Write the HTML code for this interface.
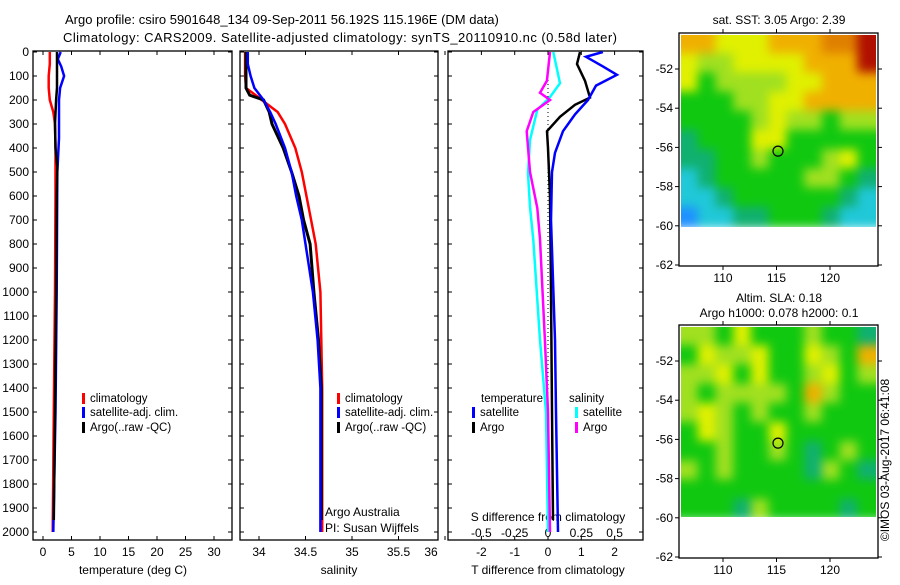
<!DOCTYPE html>
<html><head><meta charset="utf-8"><style>
body{margin:0;background:#fff}
svg text{font-family:"Liberation Sans",sans-serif;font-size:12px;fill:#000}
</style></head><body>
<svg id="s" width="900" height="580" xmlns="http://www.w3.org/2000/svg">
<defs>
<filter id="bl" x="-10%" y="-10%" width="120%" height="120%" filterUnits="objectBoundingBox"><feGaussianBlur stdDeviation="5"/></filter>
<clipPath id="c1"><rect x="681" y="35" width="195" height="192"/></clipPath>
<clipPath id="c2"><rect x="681" y="327" width="195" height="190"/></clipPath>
</defs>
<text x="65" y="24" style="font-size:13px">Argo profile: csiro 5901648_134 09-Sep-2011 56.192S 115.196E (DM data)</text>
<text x="63" y="42" textLength="554" style="font-size:13px">Climatology: CARS2009. Satellite-adjusted climatology: synTS_20110910.nc (0.58d later)</text>
<g id="g"></g>
</svg>
<script>
// ---- data ----
const tempClimDepth=[0,50,100,150,200,250,300,400,600,1000,1500,2000];
const tempClim=[1.2,1.2,1.0,1.0,1.2,1.8,2.1,2.2,2.2,2.1,1.9,1.7];
const tempSatDepth=[0,30,60,100,150,200,360,500,1000,1500,2000];
const tempSat=[3.1,2.6,3.2,3.7,3.0,2.8,2.8,2.5,2.4,2.2,1.8];
const tempArgoDepth=[0,150,200,300,400,480,600,1000,1500,1950];
const tempArgo=[2.45,2.45,2.3,2.1,2.2,2.5,2.4,2.3,2.1,1.9];
const salClimDepth=[0,100,150,190,200,250,300,400,500,700,800,1000,1200,1400,2000];
const salClim=[33.85,33.85,33.86,34.0,34.03,34.2,34.28,34.39,34.46,34.56,34.61,34.66,34.67,34.68,34.68];
const salArgoDepth=[0,150,180,200,250,300,400,500,600,700,800,1000,1200,1400,1950];
const salArgo=[33.86,33.86,33.9,34.05,34.11,34.14,34.26,34.35,34.43,34.48,34.55,34.59,34.64,34.67,34.67];
const salSatDepth=[0,50,100,150,200,250,300,400,500,600,700,800,1000,1200,1400,2000];
const salSat=[33.88,33.88,33.91,33.95,34.05,34.12,34.18,34.28,34.35,34.4,34.46,34.5,34.58,34.63,34.66,34.66];
const dSsatDepth=[0,130,188,240,367,505,645,783,1200,1500,2000];
const dSsat=[0.04,0.09,0.015,-0.08,-0.135,-0.15,-0.135,-0.11,-0.06,-0.015,0];
const dSargoDepth=[0,120,170,200,250,330,500,650,780,1200,1500,2000];
const dSargo=[0.015,-0.008,-0.06,0.015,-0.11,-0.16,-0.135,-0.08,-0.06,-0.023,0,0.015];
const dTargoDepth=[0,50,120,190,220,270,330,400,500,600,1000,1500,1950];
const dTargo=[0.96,0.87,1.11,1.26,0.81,0.36,-0.03,0,0.03,0.06,0.09,0.12,0.15];
const dTsatDepth=[0,20,60,95,140,200,260,330,420,500,700,1200,1500,2000];
const dTsat=[1.65,1.14,1.65,2.07,1.44,1.2,0.81,0.45,0.21,0.12,0.09,0.21,0.24,0.3];
const depthTicks=[0,100,200,300,400,500,600,700,800,900,1000,1100,1200,1300,1400,1500,1600,1700,1800,1900,2000];
const tempTicks=[0,5,10,15,20,25,30];
const salTicks=[34,34.5,35,35.5,36];
const dTTicks=[-2,-1,0,1,2];
const dSTicks=[-0.5,-0.25,0,0.25,0.5];
const map1Levels=[
[6,6,5,5,5,6,6,6,7,7,8],[5,4,4,5,5,5,5,6,6,6,8],[5,3,4,4,4,4,5,5,6,6,6],[3,3,3,4,4,5,5,6,6,6,6],
[3,3,3,3,4,5,4,4,3,4,4],[2,3,3,3,5,5,3,3,3,3,3],[2,2,3,3,4,3,3,3,4,5,3],[1,2,3,3,3,3,3,4,4,3,2],
[1,1,2,3,3,3,3,3,3,2,1],[0,1,1,2,2,3,3,3,2,1,1]];
const map2Levels=[
[4,4,3,5,3,3,3,4,3,3,2],[3,5,4,4,5,3,3,5,4,3,6],[4,4,5,3,5,3,3,4,5,3,4],[4,3,4,4,4,4,3,6,4,3,3],
[4,5,4,3,4,3,3,4,3,3,3],[3,5,4,3,3,5,3,3,3,3,3],[3,3,4,3,3,4,3,2,3,4,3],[4,3,4,3,3,3,3,2,4,3,2],
[3,3,3,3,3,3,3,3,3,3,3],[3,3,3,2,4,3,3,3,3,2,3]];
const latTicks=[-52,-54,-56,-58,-60,-62];
const lonTicks=[110,115,120];
// ---- drawing ----
const NS='http://www.w3.org/2000/svg';const G=document.getElementById('g');
function el(t,a,p){const e=document.createElementNS(NS,t);for(const k in a)e.setAttribute(k,a[k]);(p||G).appendChild(e);return e;}
const yD=d=>52+d*0.24;
const xT=v=>43+5.7*v, xS=v=>259+(v-34)*93, xdT=v=>548+33.3*v, xdS=v=>548+133.3*v;
function stepPath(dep,val,fx){let p='';for(let i=0;i<dep.length;i++){p+=(i?'L':'M')+fx(val[i]).toFixed(1)+','+yD(dep[i]).toFixed(1);}return p;}
function line(dep,val,fx,col,name,w){const e=el('path',{d:stepPath(dep,val,fx),fill:'none',stroke:col,'stroke-width':w||2.5});

}
function frame(x0,x1,name){const r=el('rect',{x:x0,y:51,width:x1-x0,height:489,fill:'none',stroke:'#000','stroke-width':1.3});


depthTicks.forEach(d=>{el('line',{x1:x0,x2:x0+4,y1:yD(d),y2:yD(d),stroke:'#000'});el('line',{x1:x1-4,x2:x1,y1:yD(d),y2:yD(d),stroke:'#000'});});}
function txt(x,y,s,name,anchor,extra){const t=el('text',Object.assign({x:x,y:y,'text-anchor':anchor||'middle'},extra||{}));t.textContent=s;

return t;}
frame(33,232,'temperature-panel');frame(240,438,'salinity-panel');frame(448,643,'difference-panel');
depthTicks.forEach(d=>txt(29,yD(d)+4,String(d),'depth-tick-label','end'));
tempTicks.forEach(v=>{el('line',{x1:xT(v),x2:xT(v),y1:540,y2:536,stroke:'#000'});el('line',{x1:xT(v),x2:xT(v),y1:51,y2:55,stroke:'#000'});txt(xT(v),556,String(v),'temperature-tick-label');});
salTicks.forEach(v=>{el('line',{x1:xS(v),x2:xS(v),y1:540,y2:536,stroke:'#000'});el('line',{x1:xS(v),x2:xS(v),y1:51,y2:55,stroke:'#000'});txt(Math.min(xS(v),431),556,String(v),'salinity-tick-label');});
dTTicks.forEach(v=>{el('line',{x1:xdT(v),x2:xdT(v),y1:540,y2:536,stroke:'#000'});el('line',{x1:xdT(v),x2:xdT(v),y1:51,y2:55,stroke:'#000'});txt(xdT(v),556,String(v),'t-diff-tick-label');});
dSTicks.forEach(v=>txt(xdS(v),537,String(v),'s-diff-tick-label'));
txt(133,574,'temperature (deg C)','x-axis-title-temperature');
txt(339,574,'salinity','x-axis-title-salinity');
txt(548,574,'T difference from climatology','x-axis-title-t-diff');
txt(548,524,'S difference from climatology','s-diff-axis-title','middle',{y:521});
el('line',{x1:548,x2:548,y1:yD(100),y2:yD(2000),stroke:'#000','stroke-dasharray':'1,3'});
line(tempClimDepth,tempClim,xT,'#f00','temp-climatology-line');
line(tempSatDepth,tempSat,xT,'#00f','temp-satellite-line');
line(tempArgoDepth,tempArgo,xT,'#000','temp-argo-line');
line(salClimDepth,salClim,xS,'#f00','sal-climatology-line');
line(salArgoDepth,salArgo,xS,'#000','sal-argo-line',3);
line(salSatDepth,salSat,xS,'#00f','sal-satellite-line');
line(dSsatDepth,dSsat,xdS,'#0ff','s-diff-satellite-line');
line(dSargoDepth,dSargo,xdS,'#f0f','s-diff-argo-line');
line(dTargoDepth,dTargo,xdT,'#000','t-diff-argo-line');
line(dTsatDepth,dTsat,xdT,'#00f','t-diff-satellite-line');
// legends
function leg(x,y,col,s,name){el('rect',{x:x,y:y-9,width:3,height:11,fill:col});txt(x+8,y,s,name,'start',{style:'font-size:11.5px'});}
leg(82,402,'#f00','climatology','legend-climatology');leg(82,416,'#00f','satellite-adj. clim.','legend-satellite');leg(82,431,'#000','Argo(..raw -QC)','legend-argo');
leg(337,402,'#f00','climatology','legend-climatology');leg(337,416,'#00f','satellite-adj. clim.','legend-satellite');leg(337,431,'#000','Argo(..raw -QC)','legend-argo');
txt(481,402,'temperature','legend-temperature-header','start',{style:'font-size:11.5px'});txt(569,402,'salinity','legend-salinity-header','start',{style:'font-size:11.5px'});
leg(472,416,'#00f','satellite','legend-t-satellite');leg(472,431,'#000','Argo','legend-t-argo');
leg(575,416,'#0ff','satellite','legend-s-satellite');leg(575,431,'#f0f','Argo','legend-s-argo');
txt(325,516,'Argo Australia','credit-argo-australia','start');txt(325,532,'PI: Susan Wijffels','credit-pi','start');
// maps
const cols=['#1e90ff','#20c8d8','#10b070','#10c810','#a0e020','#e0f000','#f0b000','#e08000','#b01000'];
function map(levels,top,title1,title2,name,clip){
 const fy=top-2, fb=fy+233;
 const g=el('g',{'clip-path':'url(#'+clip+')'});
 
 
 const gi=el('g',{filter:'url(#bl)',style:'filter:blur(5px)'},g);
 const cw=195/levels[0].length, ch=192/levels.length;
 levels.forEach((row,r)=>row.forEach((v,c)=>{
   const x=681+c*cw-1-(c==0?12:0), y=top+r*ch-1-(r==0?12:0);
   const w=cw+2+(c==0?12:0)+(c==row.length-1?12:0), h=ch+2+(r==0?12:0);
   el('rect',{x:x,y:y,width:w,height:h,fill:cols[v]},gi);}));
 const latY=l=>fy+36+(-52-l)*19.6;const lonX=l=>723+(l-110)*10.7;
 el('rect',{x:681,y:top+192,width:195,height:40,fill:'#fff'});
 el('rect',{x:679,y:fy,width:199,height:233,fill:'none',stroke:'#000','stroke-width':1.3});
 latTicks.forEach(l=>{el('line',{x1:679,x2:675,y1:latY(l),y2:latY(l),stroke:'#000'});el('line',{x1:878,x2:882,y1:latY(l),y2:latY(l),stroke:'#000'});txt(673,latY(l)+4,String(l),'lat-tick-label','end');});
 lonTicks.forEach(l=>{el('line',{x1:lonX(l),x2:lonX(l),y1:fy,y2:fy-4,stroke:'#000'});el('line',{x1:lonX(l),x2:lonX(l),y1:fb,y2:fb+4,stroke:'#000'});txt(lonX(l),fb+16,String(l),'lon-tick-label');});
 el('circle',{cx:778,cy:latY(-56.19),r:5,fill:'none',stroke:'#000','stroke-width':1.2});
 if(title2){txt(779,fy-23,title1,name+'-title');txt(779,fy-8,title2,name+'-subtitle');}else txt(779,fy-9,title1,name+'-title');
}
map(map1Levels,35,'sat. SST: 3.05 Argo: 2.39',null,'sst-map','c1');
map(map2Levels,327,'Altim. SLA: 0.18','Argo h1000: 0.078 h2000: 0.1','sla-map','c2');
txt(889,460,'©IMOS 03-Aug-2017 06:41:08','timestamp-label','middle',{transform:'rotate(-90 889 460)'});
</script>
</body></html>
